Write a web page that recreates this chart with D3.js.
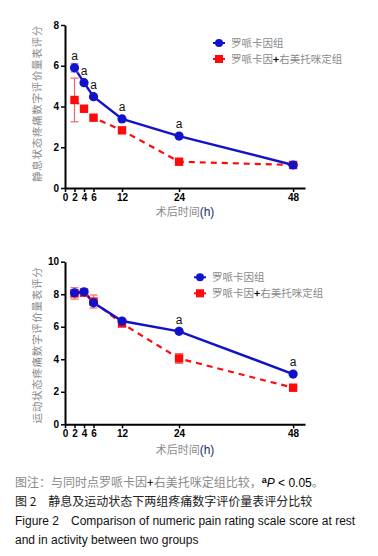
<!DOCTYPE html>
<html><head><meta charset="utf-8">
<script src="https://cdn.jsdelivr.net/npm/d3@7"></script>
<style>body{margin:0;background:#fff}svg{display:block}</style>
</head><body>
<svg id="c" width="378" height="556"></svg>
<script>
const times = [2, 4, 6, 12, 24, 48];
const xTicks = [0, 2, 4, 6, 12, 24, 48];
const seriesNames = ["罗哌卡因组", "罗哌卡因+右美托咪定组"];
// Rest (静息)
const restBlue = [5.9, 5.17, 4.48, 3.39, 2.55, 1.13];
const restBlueErr = [0.2, 0.05, 0.05, 0.05, 0.05, 0.05];
const restRed = [4.32, 3.89, 3.45, 2.83, 1.29, 1.13];
const restRedErr = [1.07, 0.05, 0.05, 0.05, 0.05, 0.05];
const restSig = [true, true, true, true, true, false];
const restYTicks = [0, 2, 4, 6, 8];
// Activity (运动)
const actBlue = [8.09, 8.15, 7.47, 6.35, 5.72, 3.09];
const actBlueErr = [0.15, 0.15, 0.1, 0.1, 0.1, 0.05];
const actRed = [8.05, 8.1, 7.55, 6.2, 4.05, 2.25];
const actRedErr = [0.35, 0.2, 0.4, 0.15, 0.3, 0.05];
const actSig = [false, false, false, false, true, true];
const actYTicks = [0, 2, 4, 6, 8, 10];

const svg = d3.select("#c");
const BLUE = "#1212c8", RED = "#ff0a0a";

function panel(o) {
  const x = d3.scaleLinear().domain([0, 50.5]).range([65, 305]);
  const y = d3.scaleLinear().domain([0, o.ymax]).range([o.y0, o.y1]);
  const g = svg.append("g");
  // axes
  const ya = g.append("g").attr("transform", "translate(65,0)")
    .call(d3.axisLeft(y).tickValues(o.yTicks).tickSize(4).tickSizeOuter(0).tickFormat(d3.format("d")));
  const xa = g.append("g").attr("transform", `translate(0,${o.y0})`)
    .call(d3.axisBottom(x).tickValues(xTicks).tickSize(4).tickSizeOuter(0).tickFormat(d3.format("d")));
  [ya, xa].forEach(a => {
    a.select(".domain").attr("stroke", "#000").attr("stroke-width", 2);
    a.selectAll(".tick line").attr("stroke", "#000").attr("stroke-width", 1.5);
    a.selectAll("text").attr("fill", "#000").attr("font-family", "Liberation Sans, Arial, sans-serif")
      .attr("font-weight", "bold").attr("font-size", 10);
  });
  ya.selectAll("text").attr("x", -6);
  xa.selectAll("text").attr("y", 6);
  // titles
  g.append("text").attr("transform", `translate(40.5,${o.ytC}) rotate(-90)`)
    .attr("text-anchor", "middle").attr("font-family", "Noto Sans CJK SC").attr("font-size", 10.5)
    .attr("letter-spacing", 0.7).attr("fill", "#8a8a8a").text(o.ytitle);
  const xt = g.append("text").attr("x", 185).attr("y", o.xtY).attr("text-anchor", "middle")
    .attr("font-family", "Noto Sans CJK SC").attr("font-size", 11).attr("fill", "#8a8a8a");
  xt.append("tspan").text("术后时间");
  xt.append("tspan").attr("fill", "#1a2a6a").attr("font-family", "Liberation Sans, Arial").attr("font-size", 12).text("(h)");

  const line = d3.line().x((d, i) => x(times[i])).y(d => y(d));
  // red
  g.append("path").datum(o.red).attr("d", line).attr("fill", "none").attr("stroke", RED)
    .attr("stroke-width", 2.2).attr("stroke-dasharray", "6,5");
  g.append("path").datum(o.blue).attr("d", line).attr("fill", "none").attr("stroke", BLUE)
    .attr("stroke-width", 2.4);
  // error bars
  function err(vals, errs, col) {
    vals.forEach((v, i) => {
      const cx = x(times[i]), t = y(v + errs[i]), b = y(v - errs[i]);
      g.append("line").attr("x1", cx).attr("x2", cx).attr("y1", t).attr("y2", b).attr("stroke", col).attr("stroke-width", 1.2);
      [t, b].forEach(yy => g.append("line").attr("x1", cx - 4).attr("x2", cx + 4).attr("y1", yy).attr("y2", yy).attr("stroke", col).attr("stroke-width", 1.2));
    });
  }
  err(o.red, o.redErr, "#e86a6a");
  g.selectAll(".sq").data(o.red).join("rect").attr("x", (d, i) => x(times[i]) - 4.2).attr("y", d => y(d) - 4.2)
    .attr("width", 8.4).attr("height", 8.4).attr("fill", RED);
  err(o.blue, o.blueErr, "#8a8ae8");
  g.selectAll(".ci").data(o.blue).join("circle").attr("cx", (d, i) => x(times[i])).attr("cy", d => y(d))
    .attr("r", 4.6).attr("fill", BLUE);
  // significance
  o.blue.forEach((v, i) => {
    if (!o.sig[i]) return;
    const base = Math.min(y(v + o.blueErr[i]), y(v) - 4.6) - 3;
    g.append("text").attr("x", x(times[i])).attr("y", base).attr("text-anchor", "middle")
      .attr("font-family", "Liberation Sans, Arial").attr("font-size", 12).attr("fill", "#111").text("a");
  });
  // legend
  const lg = g.append("g").attr("transform", `translate(${o.lx},${o.ly})`);
  [[BLUE, "c"], [RED, "s"]].forEach((m, k) => {
    const yy = k * 16;
    lg.append("line").attr("x1", -6).attr("x2", 6).attr("y1", yy).attr("y2", yy).attr("stroke", m[0]).attr("stroke-width", 2);
    if (m[1] === "c") lg.append("circle").attr("cx", 0).attr("cy", yy).attr("r", 4).attr("fill", m[0]);
    else lg.append("rect").attr("x", -4).attr("y", yy - 4).attr("width", 8).attr("height", 8).attr("fill", m[0]);
  });
  lg.append("text").attr("x", 12).attr("y", 4).attr("font-family", "Noto Sans CJK SC").attr("font-size", 10.5)
    .attr("fill", "#8a8a8a").text(seriesNames[0]);
  const t2 = lg.append("text").attr("x", 12).attr("y", 20).attr("font-family", "Noto Sans CJK SC").attr("font-size", 10.5)
    .attr("fill", "#8a8a8a");
  const parts = seriesNames[1].split("+");
  t2.append("tspan").text(parts[0]);
  t2.append("tspan").attr("fill", "#000").attr("font-weight", "bold").text("+");
  t2.append("tspan").text(parts[1]);
}

panel({ ymax: 8, y0: 188, y1: 25, yTicks: restYTicks, blue: restBlue, blueErr: restBlueErr, red: restRed, redErr: restRedErr,
  sig: restSig, ytitle: "静息状态疼痛数字评价量表评分", ytC: 103.5, xtY: 216, lx: 219, ly: 43 });
panel({ ymax: 10, y0: 424.3, y1: 261.7, yTicks: actYTicks, blue: actBlue, blueErr: actBlueErr, red: actRed, redErr: actRedErr,
  sig: actSig, ytitle: "运动状态疼痛数字评价量表评分", ytC: 345, xtY: 454, lx: 200, ly: 277.3 });

// captions
const cap = svg.append("g").attr("font-size", 12);
const c1 = cap.append("text").attr("x", 15).attr("y", 487).attr("fill", "#8a8a8a").attr("font-family", "Noto Sans CJK SC");
c1.append("tspan").text("图注：与同时点罗哌卡因");
c1.append("tspan").attr("fill", "#000").text("+");
c1.append("tspan").text("右美托咪定组比较，");
c1.append("tspan").attr("fill", "#000").attr("font-weight", "bold").attr("font-size", 9).attr("dy", -4).attr("font-family", "Liberation Sans, Arial").text("a");
c1.append("tspan").attr("fill", "#000").attr("font-style", "italic").attr("dy", 4).attr("font-family", "Liberation Sans, Arial").text("P");
c1.append("tspan").attr("fill", "#000").attr("font-family", "Liberation Sans, Arial").text(" < 0.05");
c1.append("tspan").text("。");
const c2 = cap.append("text").attr("x", 15).attr("y", 506).attr("fill", "#222").attr("font-family", "Noto Sans CJK SC");
c2.append("tspan").text("图 2　静息及运动状态下两组疼痛数字评价量表评分比较");
cap.append("text").attr("x", 15).attr("y", 525).attr("fill", "#111").attr("font-family", "Liberation Sans, Arial")
  .text("Figure 2\u2003Comparison of numeric pain rating scale score at rest");
cap.append("text").attr("x", 15).attr("y", 544).attr("fill", "#111").attr("font-family", "Liberation Sans, Arial")
  .text("and in activity between two groups");
</script>
</body></html>
